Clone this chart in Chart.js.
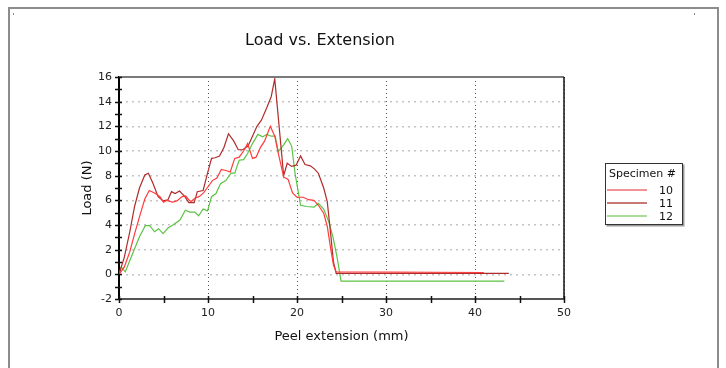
<!DOCTYPE html>
<html>
<head>
<meta charset="utf-8">
<script src="https://cdn.jsdelivr.net/npm/chart.js@4/dist/chart.umd.min.js"></script>
<style>
  html, body { margin: 0; padding: 0; background: #fff; overflow: hidden; }
  canvas { display: block; }
</style>
</head>
<body>
<canvas id="chart" width="726" height="368"></canvas>
<script>
// values: peel extension (mm) / load (N)
const specimens = ['10', '11', '12']

const x10 = [0, 0.6, 1.2, 1.8, 2.4, 2.9, 3.4, 4.1, 4.6, 5.0, 5.4, 6.0, 6.5, 7.1, 7.5, 7.9, 8.1, 8.6, 9.0, 9.5, 9.9, 10.5, 11.0, 11.5, 12.1, 12.5, 13.0, 13.5, 14.0, 14.45, 15.0, 15.4, 15.9, 16.35, 17.0, 17.5, 17.9, 18.5, 19.0, 19.5, 20.0, 20.7, 21.3, 21.9, 22.4, 23.0, 23.4, 23.8, 24.1, 24.4, 41.0]
const y10 = [0, 0.6, 1.8, 3.4, 4.9, 6.1, 6.8, 6.55, 6.3, 5.85, 6.0, 5.85, 5.95, 6.3, 6.35, 6.0, 5.9, 6.2, 6.3, 6.6, 7.0, 7.6, 7.8, 8.5, 8.4, 8.3, 9.4, 9.5, 10.0, 10.6, 9.4, 9.5, 10.3, 10.8, 12.0, 11.2, 9.8, 7.9, 7.7, 6.6, 6.25, 6.25, 6.05, 6.0, 5.6, 4.95, 3.9, 2.0, 0.75, 0.2, 0.15]

const x11 = [0, 0.6, 1.2, 1.75, 2.3, 2.9, 3.3, 3.8, 4.4, 4.95, 5.5, 5.9, 6.3, 6.8, 7.4, 7.85, 8.45, 8.8, 9.45, 9.95, 10.4, 10.8, 11.3, 11.8, 12.3, 12.9, 13.4, 13.9, 14.5, 15.0, 15.5, 16.0, 16.6, 17.1, 17.5, 18.5, 18.9, 19.4, 19.9, 20.4, 20.9, 21.5, 21.95, 22.4, 23.0, 23.4, 23.75, 24.1, 24.4, 43.8]
const y11 = [0, 1.4, 3.4, 5.5, 7.0, 8.05, 8.2, 7.4, 6.3, 5.95, 6.05, 6.7, 6.55, 6.75, 6.3, 5.82, 5.82, 6.7, 6.8, 8.2, 9.4, 9.45, 9.6, 10.3, 11.4, 10.8, 10.1, 10.1, 10.4, 11.2, 12.0, 12.5, 13.5, 14.4, 15.85, 8.0, 9.0, 8.75, 8.85, 9.6, 8.9, 8.8, 8.55, 8.2, 7.0, 5.9, 3.5, 1.0, 0.08, 0.08]

const x12 = [0, 0.25, 0.7, 1.4, 2.3, 2.95, 3.45, 4.0, 4.45, 4.95, 5.5, 6.05, 6.85, 7.45, 7.95, 8.5, 8.95, 9.45, 9.95, 10.4, 10.9, 11.4, 12.0, 12.6, 13.0, 13.5, 14.0, 14.45, 15.0, 15.6, 16.15, 16.6, 17.1, 17.55, 17.9, 18.5, 18.95, 19.4, 19.8, 20.4, 21.1, 21.9, 22.4, 23.0, 23.6, 24.05, 24.5, 24.95, 43.3]
const y12 = [0, 0.6, 0.2, 1.45, 3.05, 3.95, 3.95, 3.45, 3.7, 3.3, 3.75, 4.0, 4.4, 5.2, 5.05, 5.05, 4.75, 5.3, 5.15, 6.3, 6.55, 7.35, 7.6, 8.2, 8.2, 9.25, 9.3, 9.8, 10.6, 11.35, 11.15, 11.35, 11.2, 11.2, 9.95, 10.5, 11.0, 10.4, 8.1, 5.6, 5.5, 5.45, 5.75, 5.3, 4.2, 3.0, 1.4, -0.55, -0.55]

const yTicks = [-2, 0, 2, 4, 6, 8, 10, 12, 14, 16]
const xTicks = [0, 10, 20, 30, 40, 50]

const font = 'DejaVu Sans'
const lineColors = ['#ff3b3b', '#b02c2c', '#5cc444']
const legendColors = ['#f29292', '#c97878', '#a9dc9a']

const toPoints = (xs, ys) => xs.map((x, i) => ({ x: x, y: ys[i] }))
const series = [[x10, y10], [x11, y11], [x12, y12]]

// page frame, title, minor ticks, plot border and legend
const decor = {
  id: 'decor',
  beforeDraw(chart) {
    const ctx = chart.ctx
    ctx.save()
    ctx.strokeStyle = '#8c8c8c'
    ctx.lineWidth = 2
    ctx.beginPath()
    ctx.moveTo(9, 400); ctx.lineTo(9, 8); ctx.lineTo(718, 8); ctx.lineTo(718, 400)
    ctx.stroke()
    ctx.fillStyle = '#888'
    ctx.fillRect(13, 13, 1, 2)
    ctx.fillRect(694, 13, 1, 2)
    ctx.restore()
  },
  afterDraw(chart) {
    const ctx = chart.ctx
    const area = chart.chartArea
    const xs = chart.scales.x
    const ys = chart.scales.y
    ctx.save()

    ctx.fillStyle = '#111'
    ctx.font = '16px "' + font + '"'
    ctx.textAlign = 'center'
    ctx.textBaseline = 'middle'
    ctx.fillText('Load vs. Extension', 320, 41)

    // top and right border of the plot
    ctx.lineWidth = 2
    ctx.strokeStyle = '#7a7a7a'
    ctx.beginPath()
    ctx.moveTo(area.left, area.top); ctx.lineTo(area.right, area.top)
    ctx.stroke()
    ctx.strokeStyle = '#111'
    ctx.lineWidth = 1.5
    ctx.beginPath()
    ctx.moveTo(area.right, area.top); ctx.lineTo(area.right, area.bottom)
    ctx.stroke()

    // tick marks every 1 N and every 5 mm
    ctx.strokeStyle = '#111'
    ctx.lineWidth = 1.5
    ctx.beginPath()
    for (let v = ys.min; v <= ys.max; v++) {
      const py = Math.round(ys.getPixelForValue(v)) + 0.5
      ctx.moveTo(area.left - 4, py); ctx.lineTo(area.left + 3, py)
    }
    for (let v = xs.min; v <= xs.max; v += 5) {
      const px = Math.round(xs.getPixelForValue(v)) + 0.5
      ctx.moveTo(px, area.bottom - 3); ctx.lineTo(px, area.bottom + 4)
    }
    ctx.stroke()

    // legend box
    const bx = 605.5, by = 163.5, bw = 77, bh = 61
    ctx.fillStyle = '#9a9a9a'
    ctx.fillRect(bx + 1, by + 1, bw + 1, bh + 1)
    ctx.fillStyle = '#fff'
    ctx.fillRect(bx, by, bw, bh)
    ctx.strokeStyle = '#333'
    ctx.lineWidth = 1
    ctx.strokeRect(bx, by, bw, bh)
    ctx.fillStyle = '#111'
    ctx.font = '11px "' + font + '"'
    ctx.textAlign = 'left'
    ctx.fillText('Specimen #', 609, 174)
    chart.data.datasets.forEach((ds, i) => {
      const ly = 190 + i * 13
      ctx.strokeStyle = legendColors[i]
      ctx.lineWidth = 2
      ctx.beginPath()
      ctx.moveTo(607, ly); ctx.lineTo(647, ly)
      ctx.stroke()
      ctx.textAlign = 'right'
      ctx.fillText(ds.label, 673, ly + 1)
    })
    ctx.restore()
  }
}

new Chart(document.getElementById('chart'), {
  type: 'line',
  data: {
    datasets: series.map((s, i) => ({
      label: specimens[i],
      data: toPoints(s[0], s[1]),
      borderColor: lineColors[i],
      backgroundColor: lineColors[i],
      borderWidth: 1.2,
      pointRadius: 0,
      tension: 0,
      fill: false
    }))
  },
  options: {
    responsive: false,
    animation: false,
    layout: { padding: { left: 0, right: 162, top: 77, bottom: 0 } },
    plugins: {
      legend: { display: false },
      title: { display: false },
      tooltip: { enabled: false }
    },
    scales: {
      x: {
        type: 'linear',
        min: 0,
        max: 50,
        afterFit: (scale) => { scale.height = 69 },
        afterBuildTicks: (scale) => { scale.ticks = xTicks.map(v => ({ value: v })) },
        ticks: { color: '#222', padding: 8, font: { family: font, size: 11 } },
        grid: { color: '#555', lineWidth: 1, drawTicks: false },
        border: { color: '#555', width: 2, dash: [1, 3] },
        title: {
          display: true,
          text: 'Peel extension (mm)',
          color: '#111',
          font: { family: font, size: 13 },
          padding: { top: 0, bottom: 24 }
        }
      },
      y: {
        min: -2,
        max: 16,
        afterFit: (scale) => { scale.width = 119 },
        afterBuildTicks: (scale) => { scale.ticks = yTicks.map(v => ({ value: v })) },
        ticks: { color: '#222', padding: 7, font: { family: font, size: 11 } },
        grid: { color: '#c4c4c4', lineWidth: 1.5, drawTicks: false },
        border: { color: '#000', width: 2, dash: [2, 4] },
        title: {
          display: true,
          text: 'Load (N)',
          color: '#111',
          font: { family: font, size: 13 },
          padding: { top: 80, bottom: 0 }
        }
      }
    }
  },
  plugins: [decor]
})
</script>
</body>
</html>
